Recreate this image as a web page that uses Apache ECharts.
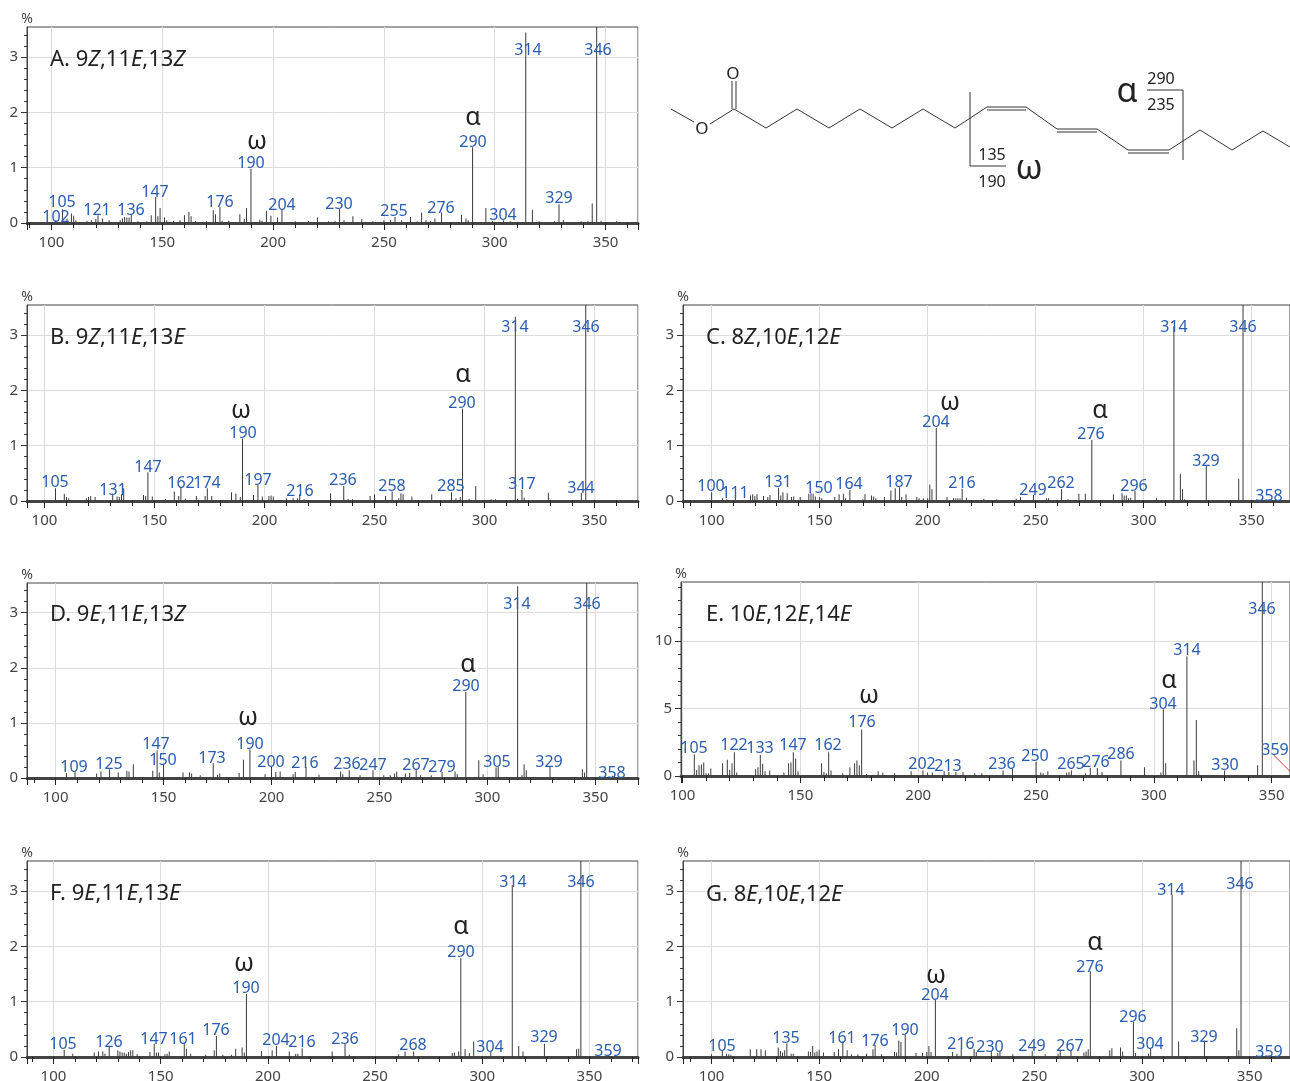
<!DOCTYPE html>
<html>
<head>
<meta charset="utf-8">
<style>html,body{margin:0;padding:0;background:#fff}#c{width:1290px;height:1081px}</style>
<script src="https://cdn.jsdelivr.net/npm/echarts@6/dist/echarts.min.js"></script>
</head>
<body>
<div id="c"></div>
<script>
// ---------- data: [m/z, %] ----------
const peaksA = [[102,.05],[105,.25],[107,.08],[109,.17],[110,.13],[111,.05],[116,.04],[118,.05],[120,.07],[121,.14],[123,.08],[126,.05],[131,.05],[132,.08],[133,.11],[134,.1],[135,.1],[136,.15],[139,.03],[143,.03],[145,.14],[147,.47],[148,.12],[149,.27],[151,.1],[152,.05],[155,.04],[158,.05],[160,.14],[162,.2],[163,.12],[165,.03],[170,.03],[173,.23],[174,.16],[176,.29],[177,.04],[180,.04],[185,.16],[187,.07],[188,.27],[190,.98],[194,.06],[195,.04],[197,.22],[199,.13],[202,.1],[204,.24],[210,.03],[216,.04],[220,.1],[225,.03],[228,.03],[230,.26],[232,.05],[236,.12],[240,.07],[245,.03],[250,.05],[253,.06],[255,.11],[258,.05],[262,.11],[265,.03],[267,.19],[269,.05],[271,.03],[273,.08],[276,.19],[285,.15],[287,.08],[288,.05],[290,1.37],[296,.27],[299,.03],[304,.05],[307,.03],[314,3.44],[317,.24],[320,.03],[327,.03],[329,.34],[331,.06],[339,.03],[342,.03],[344,.35],[346,3.6],[348,.04],[355,.03]];
const peaksB = [[105,.23],[109,.13],[110,.07],[111,.05],[119,.05],[120,.07],[121,.09],[123,.07],[131,.13],[133,.08],[134,.07],[135,.12],[136,.23],[145,.11],[146,.09],[147,.52],[149,.08],[155,.03],[159,.17],[161,.09],[162,.24],[164,.04],[169,.09],[173,.09],[174,.23],[176,.09],[185,.16],[187,.13],[189,.07],[190,1.13],[195,.11],[197,.29],[199,.08],[202,.09],[203,.1],[204,.08],[210,.05],[213,.05],[215,.05],[216,.12],[218,.03],[230,.14],[236,.27],[238,.04],[240,.03],[248,.09],[250,.12],[255,.09],[258,.17],[261,.05],[262,.14],[263,.12],[267,.08],[276,.12],[285,.16],[287,.05],[289,.07],[290,1.67],[293,.04],[296,.27],[303,.03],[305,.03],[314,3.33],[315,.04],[317,.2],[318,.06],[329,.15],[344,.15],[346,3.6]];
const peaksC = [[100,.16],[105,.05],[107,.03],[111,.07],[118,.1],[119,.12],[120,.09],[121,.12],[124,.09],[126,.07],[127,.11],[131,.24],[132,.1],[133,.16],[135,.14],[137,.07],[138,.08],[141,.07],[145,.13],[146,.14],[147,.13],[148,.08],[150,.07],[151,.05],[157,.07],[159,.12],[161,.13],[162,.05],[164,.2],[170,.03],[171,.12],[174,.1],[175,.08],[176,.05],[180,.07],[183,.19],[185,.23],[187,.25],[188,.07],[190,.12],[195,.07],[196,.05],[198,.05],[200,.05],[201,.3],[202,.21],[204,1.32],[209,.07],[212,.05],[213,.05],[214,.05],[215,.05],[216,.22],[218,.06],[226,.04],[232,.03],[241,.04],[243,.07],[249,.11],[255,.05],[256,.05],[262,.21],[265,.03],[270,.13],[273,.13],[276,1.1],[286,.12],[290,.14],[291,.1],[292,.1],[293,.05],[294,.06],[296,.18],[306,.06],[314,3.15],[317,.49],[318,.21],[319,.03],[329,.63],[344,.4],[346,3.6],[358,.03]];
const peaksD = [[105,.09],[109,.12],[119,.08],[121,.12],[125,.16],[129,.1],[133,.13],[134,.12],[136,.25],[145,.13],[147,.5],[148,.1],[150,.24],[159,.1],[162,.1],[163,.08],[167,.05],[173,.27],[175,.06],[176,.08],[185,.09],[187,.33],[190,.52],[197,.07],[200,.2],[202,.11],[204,.12],[210,.07],[211,.11],[216,.2],[222,.06],[232,.12],[233,.07],[236,.14],[241,.05],[247,.14],[252,.05],[255,.05],[257,.08],[258,.12],[262,.08],[264,.09],[267,.14],[269,.05],[274,.05],[279,.11],[285,.12],[286,.07],[290,1.56],[296,.32],[298,.07],[304,.19],[305,.2],[314,3.48],[316,.05],[317,.25],[318,.14],[329,.2],[344,.16],[345,.1],[346,3.6],[358,.04]];
const peaksE = [[105,1.6],[106,.45],[107,.8],[108,.85],[109,1],[110,.2],[111,.2],[112,.55],[117,.95],[119,1.2],[120,.45],[121,.95],[122,1.75],[123,.25],[131,.5],[132,.65],[133,1.55],[134,.9],[135,.35],[137,.4],[143,.25],[145,.95],[146,1],[147,1.75],[148,1.3],[149,.35],[159,.95],[160,.3],[161,.2],[162,1.75],[163,.4],[168,.2],[171,.65],[173,.95],[174,1.15],[175,.8],[176,3.45],[178,.15],[183,.35],[185,.25],[190,.2],[197,.35],[202,.4],[204,.25],[206,.25],[211,.35],[213,.3],[216,.3],[219,.3],[224,.2],[227,.2],[236,.4],[240,.5],[250,1.05],[252,.25],[253,.2],[255,.35],[263,.25],[264,.3],[265,.4],[271,.2],[273,.6],[276,.6],[278,.3],[286,1.15],[296,.65],[303,.25],[304,4.95],[305,.95],[314,8.85],[317,1.15],[318,4.15],[319,.35],[330,.4],[344,.8],[346,14.5],[359,.1]];
const peaksF = [[105,.13],[109,.06],[119,.08],[121,.1],[123,.1],[124,.06],[126,.18],[130,.12],[131,.1],[132,.08],[133,.08],[134,.06],[135,.09],[136,.12],[137,.12],[139,.05],[145,.09],[147,.24],[148,.08],[149,.08],[152,.05],[153,.06],[154,.1],[161,.24],[162,.15],[164,.06],[171,.04],[175,.12],[176,.38],[179,.04],[183,.04],[185,.15],[188,.17],[189,.08],[190,1.14],[197,.11],[202,.12],[204,.2],[210,.1],[213,.06],[214,.06],[216,.16],[230,.1],[236,.24],[238,.04],[261,.05],[264,.1],[268,.1],[286,.07],[287,.08],[289,.1],[290,1.79],[292,.14],[294,.07],[296,.28],[304,.09],[314,3.1],[317,.2],[319,.1],[329,.24],[344,.14],[345,.15],[346,3.6],[359,.03]];
const peaksG = [[100,.05],[105,.12],[107,.06],[108,.05],[109,.04],[118,.14],[121,.14],[123,.14],[125,.12],[131,.17],[132,.11],[133,.08],[134,.12],[135,.25],[137,.06],[138,.06],[145,.1],[146,.09],[147,.2],[148,.08],[149,.1],[150,.13],[152,.08],[157,.09],[159,.14],[161,.28],[163,.12],[165,.05],[168,.05],[172,.06],[175,.14],[176,.22],[179,.05],[185,.09],[186,.08],[187,.3],[188,.27],[190,.41],[195,.07],[198,.07],[200,.09],[201,.2],[202,.09],[204,1.05],[212,.09],[214,.06],[216,.15],[222,.15],[223,.09],[230,.11],[233,.07],[234,.1],[240,.05],[249,.11],[255,.05],[261,.06],[262,.11],[267,.12],[273,.08],[274,.1],[275,.14],[276,1.55],[285,.12],[286,.16],[290,.17],[291,.1],[296,.63],[297,.07],[303,.06],[304,.16],[314,2.93],[317,.28],[329,.3],[344,.52],[345,.12],[346,3.6],[359,.03]];

// labelled m/z values
const labelsA = [102,105,121,136,147,176,190,204,230,255,276,290,304,314,329,346];
const labelsB = [105,131,147,162,174,190,197,216,236,258,285,290,314,317,344,346];
const labelsC = [100,111,131,150,164,187,204,216,249,262,276,296,314,329,346,358];
const labelsD = [109,125,147,150,173,190,200,216,236,247,267,279,290,305,314,329,346,358];
const labelsE = [105,122,133,147,162,176,202,213,236,250,265,276,286,304,314,330,346,359];
const labelsF = [105,126,147,161,176,190,204,216,236,268,290,304,314,329,346,359];
const labelsG = [105,135,161,176,190,204,216,230,249,267,276,296,304,314,329,346,359];

const titles = {
  A: 'A. 9{i|Z},11{i|E},13{i|Z}', B: 'B. 9{i|Z},11{i|E},13{i|E}', C: 'C. 8{i|Z},10{i|E},12{i|E}',
  D: 'D. 9{i|E},11{i|E},13{i|Z}', E: 'E. 10{i|E},12{i|E},14{i|E}', F: 'F. 9{i|E},11{i|E},13{i|E}',
  G: 'G. 8{i|E},10{i|E},12{i|E}'
};
const yTickLabels = [0,1,2,3];
const yMinorTicks = [0,.2,.4,.6,.8,1,1.2,1.4,1.6,1.8,2,2.2,2.4,2.6,2.8,3,3.2,3.4];
const yTickLabelsE = [0,5,10];
const yMinorTicksE = [0,1,2,3,4,5,6,7,8,9,10,11,12,13,14];
const leaderE = [[350.8,1.55],[358,.3]];

// ---------- layout (positions, sizes, styles) ----------
const panels = [
  {k:'A',peaks:peaksA,labels:labelsA,left:27,top:27,w:611,h:196,xMin:89.2,xMax:364.9,yMax:3.54,
   centres:[[56,216],[62,201],[97,209],[131,209],[155,191],[220,201],[251,162],[282,204],[339,203],[394,210],[441,207],[473,141],[503,214],[528,49],[559,197],[598,49]],
   t:[50,59],om:[257,141],al:[473,117]},
  {k:'B',peaks:peaksB,labels:labelsB,left:27,top:305,w:611,h:196,xMin:92.3,xMax:370,yMax:3.54,
   centres:[[55,481],[113,489],[148,466],[181,482],[207,482],[243,432],[258,479],[300,490],[343,479],[392,485],[451,485],[462,402],[515,326],[522,483],[581,487],[586,326]],
   t:[50,337],om:[241,410],al:[463,374]},
  {k:'C',peaks:peaksC,labels:labelsC,left:683,top:305,w:607,h:196,xMin:87,xMax:368,yMax:3.54,
   centres:[[711,485],[735,492],[778,481],[819,487],[849,483],[899,481],[936,421],[962,482],[1033,489],[1061,482],[1091,433],[1134,485],[1174,326],[1206,460],[1243,326],[1269,495]],
   t:[706,337],om:[950,402],al:[1100,410]},
  {k:'D',peaks:peaksD,labels:labelsD,left:27,top:583,w:611,h:195,xMin:87,xMax:370,yMax:3.54,
   centres:[[74,766],[109,763],[156,743],[163,759],[212,757],[250,743],[271,761],[305,762],[347,763],[373,764],[416,764],[442,766],[466,685],[497,761],[517,603],[549,761],[587,603],[612,772]],
   t:[50,614],om:[248,717],al:[468,664]},
  {k:'E',peaks:peaksE,labels:labelsE,left:681,top:582,w:609,h:194,xMin:99.6,xMax:358,yMax:14.37,
   yTicks:yTickLabelsE,yMinor:yMinorTicksE,
   centres:[[694,747],[734,744],[760,747],[793,744],[828,744],[862,721],[922,763],[948,765],[1002,763],[1035,755],[1071,763],[1096,761],[1121,753],[1163,703],[1187,649],[1225,764],[1262,608],[1275,749]],
   t:[706,614],om:[869,695],al:[1169,680]},
  {k:'F',peaks:peaksF,labels:labelsF,left:27,top:861,w:611,h:196,xMin:87.9,xMax:372.9,yMax:3.54,
   centres:[[63,1043],[109,1041],[154,1038],[183,1038],[216,1029],[246,987],[276,1039],[302,1041],[345,1038],[413,1044],[461,951],[490,1046],[513,881],[544,1036],[581,881],[608,1050]],
   t:[50,893],om:[244,963],al:[461,926]},
  {k:'G',peaks:peaksG,labels:labelsG,left:683,top:861,w:607,h:196,xMin:87,xMax:369,yMax:3.54,
   centres:[[722,1045],[786,1037],[842,1037],[875,1040],[905,1029],[935,994],[961,1043],[990,1046],[1032,1045],[1070,1045],[1090,966],[1133,1016],[1150,1043],[1171,889],[1204,1036],[1240,883],[1269,1051]],
   t:[706,894],om:[936,975],al:[1095,942]}
];

const FONT = '"Noto Sans", "Open Sans", sans-serif';
const BLUE = '#2a5db0', GRID = '#dcdcdc', TEXT_DY = 1, X_SHIFT = 0.25;

const option = {animation:false,backgroundColor:'#fff',grid:[],xAxis:[],yAxis:[],series:[],graphic:[]};

panels.forEach((p,i)=>{
  option.grid.push({left:p.left,top:p.top,width:p.w,height:p.h,show:true,borderColor:'#444',borderWidth:1,backgroundColor:'transparent',outerBoundsMode:'none'});
  const yT = p.yTicks||yTickLabels, yM = p.yMinor||yMinorTicks;
  option.xAxis.push(
    {type:'value',gridIndex:i,position:'bottom',min:p.xMin-X_SHIFT,max:p.xMax-X_SHIFT,splitNumber:5,
     axisLine:{show:true,onZero:false,lineStyle:{color:'#444',width:3}},
     axisTick:{show:true,length:7,lineStyle:{color:'#222',width:1}},
     minorTick:{show:true,splitNumber:5,length:5,lineStyle:{color:'#222',width:1}},
     axisLabel:{show:true,showMinLabel:false,showMaxLabel:false,margin:12,fontSize:15,color:'#444',fontFamily:FONT},
     splitLine:{show:true,lineStyle:{color:GRID,width:1}}}
  );
  option.yAxis.push(
    {type:'value',gridIndex:i,position:'left',min:0,max:p.yMax,
     name:'%',nameLocation:'end',nameGap:1,nameTextStyle:{fontSize:14,color:'#444',fontFamily:FONT,align:'center'},
     axisLine:{show:true,onZero:false,lineStyle:{color:'#444'}},
     axisTick:{show:true,length:6,customValues:yT,lineStyle:{color:'#333'}},
     axisLabel:{show:true,customValues:yT,margin:9,fontSize:15,color:'#444',fontFamily:FONT},
     splitLine:{show:true,lineStyle:{color:GRID,width:1}}},
    {type:'value',gridIndex:i,position:'left',min:0,max:p.yMax,
     axisLine:{show:true,onZero:false,lineStyle:{color:'transparent'}},axisTick:{show:true,length:3,customValues:yM,lineStyle:{color:'#333'}},
     axisLabel:{show:false},splitLine:{show:false}}
  );
  option.series.push({type:'bar',name:'Spectrum '+p.k,xAxisIndex:i,yAxisIndex:i*2,barWidth:1,clip:true,
    itemStyle:{color:'#3a3a3a'},data:p.peaks});
  p.labels.forEach((mz,j)=>{
    option.graphic.push({type:'text',z:50,style:{text:String(mz),x:p.centres[j][0],y:p.centres[j][1]+TEXT_DY,align:'center',verticalAlign:'middle',
      font:'16px '+FONT,fill:BLUE}});
  });
  option.graphic.push({type:'text',z:50,style:{text:titles[p.k],x:p.t[0],y:p.t[1]+TEXT_DY,verticalAlign:'middle',align:'left',
    font:'22px '+FONT,fill:'#222',rich:{i:{fontStyle:'italic',fontSize:22,fontFamily:FONT,fill:'#222'}}}});
  [['ω',p.om],['α',p.al]].forEach(([s,c])=>{
    option.graphic.push({type:'text',z:50,style:{text:s,x:c[0],y:c[1]+TEXT_DY,align:'center',verticalAlign:'middle',font:'25px '+FONT,fill:'#222'}});
  });
});

// red leader line of the 359 label in panel E
option.series.push({type:'line',xAxisIndex:4,yAxisIndex:8,data:leaderE,symbol:'none',silent:true,clip:true,
  lineStyle:{color:'#d9332b',width:1}});

// structure (drawing, not data)
const stroke = {stroke:'#333',lineWidth:1,fill:null};
[
  [[671,109],[694,122]],
  [[710,124],[734,109],[766,128],[797,109],[829,128],[860,109],[892,128],[923,109],[955,128],[987,107]],
  [[987,107],[1026,107]],
  [[1026,107],[1057,129]],
  [[1057,129],[1097,129]],
  [[1097,129],[1128,150]],
  [[1128,150],[1169,150]],
  [[1169,150],[1200,130],[1232,150],[1263,131],[1290,147]],
  [[987,110],[1026,110]],[[1057,132],[1097,132]],[[1128,153],[1169,153]],
  [[732,81],[732,109]],[[736,81],[736,109]],
  [[970,92],[970,166],[1006,166]],
  [[1147,90],[1183,90],[1183,160]]
].forEach(pts=>option.graphic.push({type:'polyline',z:40,shape:{points:pts},style:stroke}));
[['O',733,73,17],['O',702,128,17],['135',992,154,16],['190',992,181,16],['290',1161,78,16],['235',1161,104,16],['ω',1029,168,34],['α',1127,91,34]]
.forEach(([s,x,y,fs])=>option.graphic.push({type:'text',z:50,style:{text:s,x,y:y+TEXT_DY,align:'center',verticalAlign:'middle',font:fs+'px '+FONT,fill:'#222'}}));

const chart = echarts.init(document.getElementById('c'),null,{renderer:'canvas',width:1290,height:1081});
chart.setOption(option);
</script>
</body>
</html>
